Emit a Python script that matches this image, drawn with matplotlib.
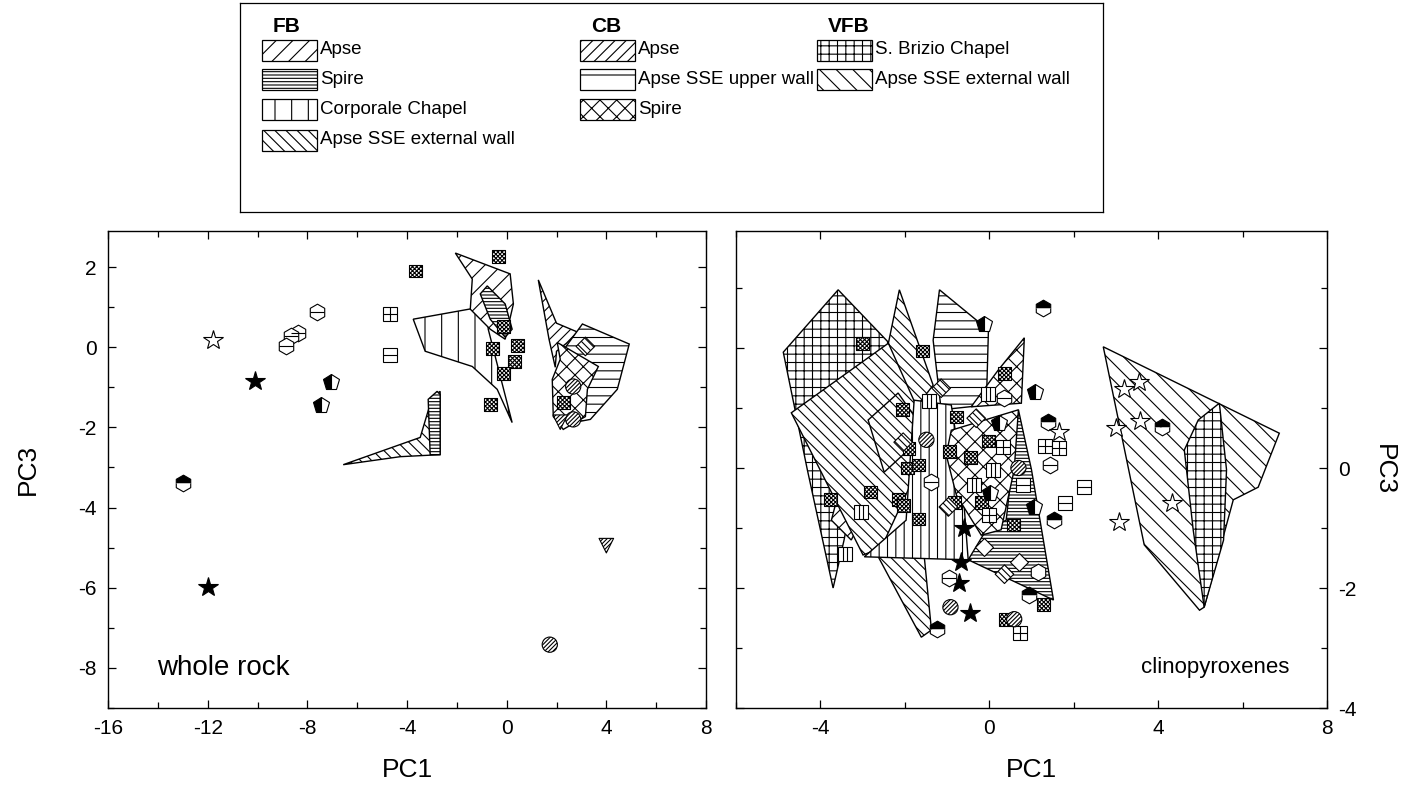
import numpy as np
import matplotlib.pyplot as plt
from matplotlib.patches import Polygon, Rectangle
from matplotlib.path import Path
from matplotlib.ticker import MultipleLocator, FixedLocator, FixedFormatter

plt.rcParams['font.family'] = ['Liberation Sans', 'DejaVu Sans']
plt.rcParams['axes.unicode_minus'] = False
plt.rcParams['hatch.linewidth'] = 0.8

# ---------------- legend ----------------
legend_groups = ['FB', 'CB', 'VFB']
legend_labels = [['Apse', 'Spire', 'Corporale Chapel', 'Apse SSE external wall'],
                 ['Apse', 'Apse SSE upper wall', 'Spire'],
                 ['S. Brizio Chapel', 'Apse SSE external wall']]
legend_hatches = [['//', '-----', '|', '\\\\\\'],
                  ['///', '-', 'xx'],
                  ['++', '\\\\']]

# ---------------- whole rock (left panel), PC1 / PC3 ----------------
# outlines of the sample groups
wr_fb_apse_x = [-2.06, 0.14, 0.27, -0.06, -0.66, -1.46, -1.38]
wr_fb_apse_y = [2.35, 1.83, 1.08, 0.20, 0.45, 0.95, 1.70]
wr_fb_corporale_x = [-3.75, -1.06, -0.82, -0.74, 0.22, -0.38, -1.38, -3.27]
wr_fb_corporale_y = [0.70, 1.00, 1.50, 0.45, -1.88, -1.05, -0.48, -0.10]
wr_fb_spire_x = [-1.06, -0.78, -0.06, 0.22, -0.06, -0.66]
wr_fb_spire_y = [1.33, 1.53, 1.08, 0.45, 0.25, 0.70]
wr_fb_sse_x = [-6.56, -3.47, -2.99, -2.67, -2.67, -4.27]
wr_fb_sse_y = [-2.93, -2.25, -1.25, -1.10, -2.68, -2.73]
wr_fb_spire2_x = [-3.15, -2.79, -2.67, -2.67, -3.07]
wr_fb_spire2_y = [-1.30, -1.10, -1.18, -2.68, -2.68]
wr_cb_apse_x = [1.27, 2.00, 2.84, 2.40, 2.00, 1.95, 1.70]
wr_cb_apse_y = [1.68, 0.60, 0.38, 0.10, -0.10, -0.50, 0.20]
wr_cb_upper_x = [3.04, 4.92, 4.44, 3.36, 2.67, 2.15]
wr_cb_upper_y = [0.58, 0.08, -1.05, -1.80, -1.88, -0.18]
wr_cb_spire_x = [2.03, 3.68, 3.24, 3.16, 2.27, 1.87, 1.83, 2.15]
wr_cb_spire_y = [0.12, -0.48, -1.05, -1.73, -2.05, -1.73, -0.80, -0.30]

# single samples
wr_star_open_x, wr_star_open_y = [-11.78], [0.18]
wr_star_full_x, wr_star_full_y = [-10.1, -12.0], [-0.85, -5.98]
wr_hex_line_x = [-7.6, -8.37, -8.65, -8.85]
wr_hex_line_y = [0.87, 0.35, 0.27, 0.02]
wr_pent_half_x, wr_pent_half_y = [-7.04, -7.45], [-0.87, -1.45]
wr_hex_half_x, wr_hex_half_y = [-12.99], [-3.38]
wr_sq_plus_x, wr_sq_plus_y = [-4.67], [0.83]
wr_sq_minus_x, wr_sq_minus_y = [-4.67], [-0.20]
wr_sq_dense_x = [-3.67, -0.34, -0.14, -0.58, 0.43, 0.30, -0.14, -0.66, 2.27]
wr_sq_dense_y = [1.90, 2.27, 0.52, -0.03, 0.05, -0.35, -0.65, -1.42, -1.37]
wr_circle_x, wr_circle_y = [2.67, 2.67, 1.73], [-0.98, -1.80, -7.42]
wr_tri_x, wr_tri_y = [2.15, 4.0], [-1.87, -4.95]
wr_diam_x, wr_diam_y = [3.16], [0.02]

# ---------------- clinopyroxenes (right panel), PC1 / PC3 ----------------
cp_vfb_sse_x = [2.70, 6.87, 6.37, 5.78, 5.09, 4.98, 3.67]
cp_vfb_sse_y = [2.02, 0.58, -0.32, -0.53, -2.32, -2.37, -1.28]
cp_vfb_brizio1_x = [-3.58, -2.37, -2.91, -3.44, -3.70, -4.31, -4.88]
cp_vfb_brizio1_y = [2.97, 2.08, 0.80, -1.20, -2.00, -0.03, 1.93]
cp_vfb_brizio2_x = [5.45, 5.62, 5.55, 5.09, 4.83, 4.62, 4.95]
cp_vfb_brizio2_y = [1.08, -0.03, -1.20, -2.32, -1.03, 0.30, 0.80]
cp_fb_sse1_x = [-4.69, -2.39, -1.37, -2.56, -2.99]
cp_fb_sse1_y = [0.92, 2.08, 0.47, -1.33, -1.45]
cp_fb_sse2_x = [-2.13, -1.33, -1.97, -2.39]
cp_fb_sse2_y = [2.97, 1.38, 0.80, 2.08]
cp_fb_sse3_x = [-2.63, -1.54, -1.37, -1.61]
cp_fb_sse3_y = [-1.48, -1.48, -2.70, -2.82]
cp_fb_sse4_x = [-2.87, -2.16, -1.49, -2.49]
cp_fb_sse4_y = [0.80, 1.25, 0.58, -0.07]
cp_fb_apse_x = [-3.74, -3.34, -3.03, -3.27]
cp_fb_apse_y = [-0.87, 0.22, -0.87, -1.20]
cp_cb_upper_x = [-1.18, -0.02, -0.07, -1.14, -1.33]
cp_cb_upper_y = [2.97, 2.30, 1.05, 0.97, 2.13]
cp_fb_corporale_x = [-2.96, -1.97, -1.78, -0.90, -0.66, -0.50]
cp_fb_corporale_y = [-1.48, -0.87, 1.13, 1.05, -0.03, -1.53]
cp_cb_spire1_x = [0.83, 0.76, -0.43, 0.21]
cp_cb_spire1_y = [2.17, 1.08, 1.02, 1.63]
cp_cb_spire2_x = [-0.90, 0.69, 0.59, 0.28, -0.19, -0.78, -1.02]
cp_cb_spire2_y = [0.63, 0.97, -0.03, -1.03, -1.12, -0.45, 0.22]
cp_fb_spire_x = [0.69, 1.00, 1.52, -0.50, -0.07, 0.40]
cp_fb_spire_y = [0.97, -0.03, -2.20, -1.53, -1.03, -0.87]

cp_sq_dense_x = [-3.01, -1.59, 0.36, -2.06, -0.78, -0.95, -0.45, -1.90, -1.94, -1.68, -0.02,
                 -2.82, -3.77, -2.16, -2.04, -1.68, -0.19, 0.57, 1.28, 0.38, -0.83]
cp_sq_dense_y = [2.08, 1.95, 1.58, 0.98, 0.85, 0.27, 0.17, 0.32, 0.00, 0.05, 0.45,
                 -0.40, -0.53, -0.53, -0.62, -0.85, -0.58, -0.95, -2.28, -2.53, -0.57]
cp_pent_half_x = [-0.12, 1.09, 0.24, 0.02, 1.07]
cp_pent_half_y = [2.40, 1.27, 0.75, -0.42, -0.65]
cp_hex_half_x = [1.28, 1.40, 4.08, 1.54, 0.95, -1.23]
cp_hex_half_y = [2.67, 0.77, 0.68, -0.87, -2.12, -2.68]
cp_star_open_x = [3.18, 3.55, 3.58, 2.99, 1.64, 4.34, 3.08]
cp_star_open_y = [1.32, 1.43, 0.78, 0.67, 0.60, -0.58, -0.90]
cp_star_full_x = [-0.59, -0.66, -0.71, -0.45]
cp_star_full_y = [-1.00, -1.57, -1.92, -2.42]
cp_sq_plus_x = [0.33, 1.33, 1.66, 0.00, 0.73]
cp_sq_plus_y = [0.35, 0.37, 0.33, -0.78, -2.75]
cp_sq_bars_x = [-1.42, -0.02, 0.09, -0.36, -3.03, -3.41]
cp_sq_bars_y = [1.12, 1.23, -0.03, -0.28, -0.73, -1.43]
cp_hex_line_x = [0.36, 1.45, -1.37, -0.95]
cp_hex_line_y = [1.17, 0.05, -0.23, -1.83]
cp_sq_minus_x = [2.25, 1.80, 0.81]
cp_sq_minus_y = [-0.32, -0.58, -0.28]
cp_diam_x = [-1.14, -0.31, -2.04, -0.97, 0.36]
cp_diam_y = [1.33, 0.83, 0.43, -0.65, -1.77]
cp_diam_open_x = [-0.12, 0.71]
cp_diam_open_y = [-1.32, -1.57]
cp_hex_open_x, cp_hex_open_y = [1.16], [-1.73]
cp_circle_x = [-1.49, -0.92, 0.59, 0.69]
cp_circle_y = [0.47, -2.32, -2.52, 0.00]


BARS = Path([(-0.33, -1), (-0.33, 1), (0.33, -1), (0.33, 1)],
            [Path.MOVETO, Path.LINETO, Path.MOVETO, Path.LINETO])


def draw_poly(ax, xs, ys, hatch):
    ax.add_patch(Polygon(np.column_stack([xs, ys]), closed=True, facecolor='white',
                         edgecolor='black', hatch=hatch, lw=1.0, zorder=2))


def draw_symbols(ax, kind, xs, ys):
    kw = dict(linestyle='none', mec='black', mew=0.8, zorder=4)
    if kind == 'sq_dense':
        ax.scatter(xs, ys, marker='s', s=85, facecolor='white', edgecolor='black',
                   hatch='xxxxxxxx', linewidth=0.8, zorder=4)
    elif kind == 'circle':
        ax.scatter(xs, ys, marker='o', s=120, facecolor='white', edgecolor='black',
                   hatch='////////', linewidth=0.8, zorder=4)
    elif kind == 'tri':
        ax.scatter(xs, ys, marker='v', s=110, facecolor='white', edgecolor='black',
                   hatch='////////', linewidth=0.8, zorder=4)
    elif kind == 'diam':
        ax.scatter(xs, ys, marker='D', s=90, facecolor='white', edgecolor='black',
                   hatch='\\\\\\\\\\', linewidth=0.8, zorder=4)
    elif kind == 'diam_open':
        ax.plot(xs, ys, marker='D', ms=9.5, mfc='white', **kw)
    elif kind == 'star_open':
        ax.plot(xs, ys, marker='*', ms=15, mfc='white', **kw)
    elif kind == 'star_full':
        ax.plot(xs, ys, marker='*', ms=15, mfc='black', **kw)
    elif kind == 'hex_open':
        ax.plot(xs, ys, marker='h', ms=12, mfc='white', **kw)
    elif kind == 'hex_line':
        ax.plot(xs, ys, marker='h', ms=12, mfc='white', **kw)
        ax.plot(xs, ys, marker='_', ms=10.4, **kw)
    elif kind == 'hex_half':
        ax.plot(xs, ys, marker='h', ms=12, fillstyle='top', mfc='black',
                markerfacecoloralt='white', **kw)
    elif kind == 'pent_half':
        ax.plot(xs, ys, marker='p', ms=12, fillstyle='left', mfc='black',
                markerfacecoloralt='white', **kw)
    elif kind == 'sq_plus':
        ax.plot(xs, ys, marker='s', ms=9.5, mfc='white', **kw)
        ax.plot(xs, ys, marker='+', ms=9.5, **kw)
    elif kind == 'sq_minus':
        ax.plot(xs, ys, marker='s', ms=9.5, mfc='white', **kw)
        ax.plot(xs, ys, marker='_', ms=9.5, **kw)
    elif kind == 'sq_bars':
        ax.plot(xs, ys, marker='s', ms=9.5, mfc='white', **kw)
        ax.plot(xs, ys, marker=BARS, ms=9.5, mfc='none', **kw)


def style_axes(ax):
    for sp in ax.spines.values():
        sp.set_linewidth(1.0)
    ax.tick_params(which='both', direction='in', top=True, right=True,
                   labelsize=15, width=0.9)
    ax.tick_params(which='major', length=6, pad=8)
    ax.tick_params(which='minor', length=4)


fig = plt.figure(figsize=(14.14, 7.93), dpi=100)

# ---- left panel ----
ax1 = fig.add_axes([108 / 1414, 85 / 793, 598 / 1414, 477 / 793])
for xs, ys, h in [(wr_fb_sse_x, wr_fb_sse_y, '\\\\\\'),
                  (wr_fb_spire2_x, wr_fb_spire2_y, '-----'),
                  (wr_fb_corporale_x, wr_fb_corporale_y, '|'),
                  (wr_fb_apse_x, wr_fb_apse_y, '//'),
                  (wr_fb_spire_x, wr_fb_spire_y, '-----'),
                  (wr_cb_apse_x, wr_cb_apse_y, '///'),
                  (wr_cb_upper_x, wr_cb_upper_y, '--'),
                  (wr_cb_spire_x, wr_cb_spire_y, 'xx')]:
    draw_poly(ax1, xs, ys, h)
draw_symbols(ax1, 'star_open', wr_star_open_x, wr_star_open_y)
draw_symbols(ax1, 'star_full', wr_star_full_x, wr_star_full_y)
draw_symbols(ax1, 'hex_line', wr_hex_line_x, wr_hex_line_y)
draw_symbols(ax1, 'pent_half', wr_pent_half_x, wr_pent_half_y)
draw_symbols(ax1, 'hex_half', wr_hex_half_x, wr_hex_half_y)
draw_symbols(ax1, 'sq_plus', wr_sq_plus_x, wr_sq_plus_y)
draw_symbols(ax1, 'sq_minus', wr_sq_minus_x, wr_sq_minus_y)
draw_symbols(ax1, 'sq_dense', wr_sq_dense_x, wr_sq_dense_y)
draw_symbols(ax1, 'circle', wr_circle_x, wr_circle_y)
draw_symbols(ax1, 'tri', wr_tri_x, wr_tri_y)
draw_symbols(ax1, 'diam', wr_diam_x, wr_diam_y)

ax1.set_xlim(-16, 8)
ax1.set_ylim(-9, 2.9)
ax1.xaxis.set_major_locator(MultipleLocator(4))
ax1.xaxis.set_minor_locator(MultipleLocator(2))
ax1.yaxis.set_major_locator(MultipleLocator(2))
ax1.yaxis.set_minor_locator(MultipleLocator(1))
style_axes(ax1)
ax1.set_xlabel('PC1', fontsize=19, labelpad=14)
ax1.set_ylabel('PC3', fontsize=19, labelpad=28)
ax1.text(0.082, 0.084, 'whole rock', transform=ax1.transAxes, fontsize=20, va='center')

# ---- right panel ----
ax2 = fig.add_axes([736 / 1414, 85 / 793, 591 / 1414, 477 / 793])
for xs, ys, h in [(cp_vfb_sse_x, cp_vfb_sse_y, '\\\\'),
                  (cp_vfb_brizio2_x, cp_vfb_brizio2_y, '++'),
                  (cp_vfb_brizio1_x, cp_vfb_brizio1_y, '++'),
                  (cp_fb_sse3_x, cp_fb_sse3_y, '\\\\\\'),
                  (cp_fb_apse_x, cp_fb_apse_y, '//'),
                  (cp_fb_sse2_x, cp_fb_sse2_y, '\\\\\\'),
                  (cp_cb_upper_x, cp_cb_upper_y, '--'),
                  (cp_fb_sse1_x, cp_fb_sse1_y, '\\\\\\'),
                  (cp_fb_sse4_x, cp_fb_sse4_y, '\\\\\\'),
                  (cp_fb_corporale_x, cp_fb_corporale_y, '||'),
                  (cp_cb_spire1_x, cp_cb_spire1_y, 'xx'),
                  (cp_fb_spire_x, cp_fb_spire_y, '-----'),
                  (cp_cb_spire2_x, cp_cb_spire2_y, 'xx')]:
    draw_poly(ax2, xs, ys, h)
draw_symbols(ax2, 'sq_dense', cp_sq_dense_x, cp_sq_dense_y)
draw_symbols(ax2, 'pent_half', cp_pent_half_x, cp_pent_half_y)
draw_symbols(ax2, 'hex_half', cp_hex_half_x, cp_hex_half_y)
draw_symbols(ax2, 'star_open', cp_star_open_x, cp_star_open_y)
draw_symbols(ax2, 'star_full', cp_star_full_x, cp_star_full_y)
draw_symbols(ax2, 'sq_plus', cp_sq_plus_x, cp_sq_plus_y)
draw_symbols(ax2, 'sq_bars', cp_sq_bars_x, cp_sq_bars_y)
draw_symbols(ax2, 'hex_line', cp_hex_line_x, cp_hex_line_y)
draw_symbols(ax2, 'sq_minus', cp_sq_minus_x, cp_sq_minus_y)
draw_symbols(ax2, 'diam', cp_diam_x, cp_diam_y)
draw_symbols(ax2, 'diam_open', cp_diam_open_x, cp_diam_open_y)
draw_symbols(ax2, 'hex_open', cp_hex_open_x, cp_hex_open_y)
draw_symbols(ax2, 'circle', cp_circle_x, cp_circle_y)

ax2.set_xlim(-6, 8)
ax2.set_ylim(-4, 3.95)
ax2.xaxis.set_major_locator(FixedLocator([-4, 0, 4, 8]))
ax2.xaxis.set_minor_locator(MultipleLocator(2))
ax2.yaxis.set_major_locator(FixedLocator([-4, -2, 0, 2]))
ax2.yaxis.set_major_formatter(FixedFormatter(['-4', '-2', '0', '']))
ax2.yaxis.set_minor_locator(MultipleLocator(1))
style_axes(ax2)
ax2.tick_params(axis='y', labelleft=False, labelright=True)
ax2.yaxis.set_label_position('right')
ax2.set_xlabel('PC1', fontsize=19, labelpad=14)
ax2.set_ylabel('PC3', fontsize=19, rotation=270, labelpad=28)
ax2.text(0.937, 0.084, 'clinopyroxenes', transform=ax2.transAxes, fontsize=16,
         va='center', ha='right')

# ---- legend box ----
lax = fig.add_axes([240 / 1414, 581 / 793, 863 / 1414, 209 / 793])
lax.set_xlim(0, 863)
lax.set_ylim(209, 0)
lax.set_xticks([])
lax.set_yticks([])
for sp in lax.spines.values():
    sp.set_linewidth(0.9)
col_x = [22, 340, 577]
row_y = [47, 76, 106, 137]
for ci, grp in enumerate(legend_groups):
    lax.text(col_x[ci] + 11, 24, grp, fontsize=15, fontweight='bold', va='center')
    for ri, (lab, h) in enumerate(zip(legend_labels[ci], legend_hatches[ci])):
        lax.add_patch(Rectangle((col_x[ci], row_y[ri] - 10), 55, 21, facecolor='white',
                                edgecolor='black', hatch=h, lw=0.9))
        lax.text(col_x[ci] + 58, row_y[ri], lab, fontsize=13.5, va='center')

fig.savefig('out.png', dpi=100)
